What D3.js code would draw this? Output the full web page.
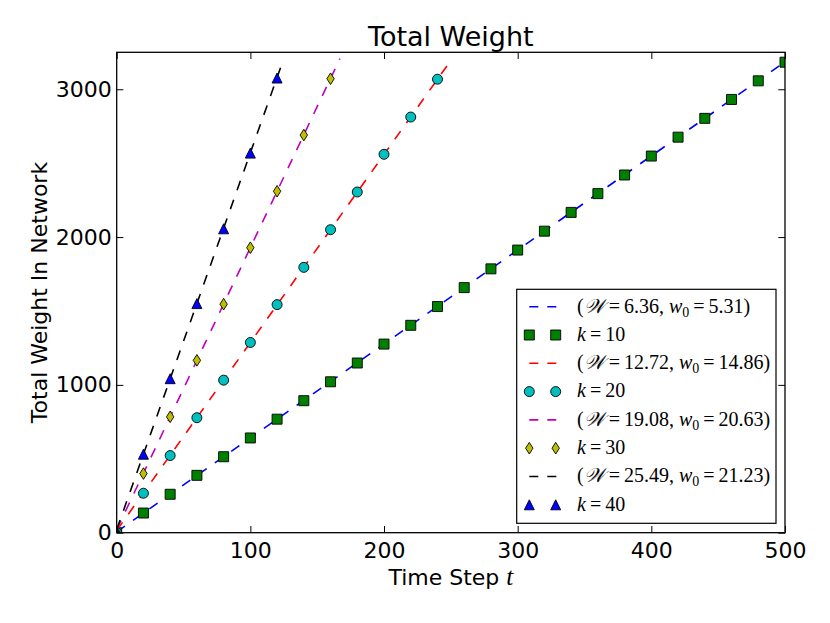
<!DOCTYPE html>
<html>
<head>
<meta charset="utf-8">
<script src="https://cdn.jsdelivr.net/npm/d3@7"></script>
<style>
  html, body { margin: 0; padding: 0; background: #fff; }
  svg { display: block; }
  .tick text { font-family: "DejaVu Sans", sans-serif; font-size: 22px; fill: #000; }
</style>
</head>
<body>
<svg id="chart" width="830" height="623"></svg>
<script>
// ─── Data ────────────────────────────────────────────────────────────────────
const t10 = d3.range(0, 501, 20);
const k10 = [0, 133, 260, 388, 514, 641, 768, 893, 1021, 1148, 1276, 1403, 1530,
             1658, 1785, 1912, 2040, 2167, 2294, 2420, 2548, 2676, 2803, 2931, 3057, 3183];
const t20 = d3.range(0, 241, 20);
const k20 = [0, 267, 522, 778, 1032, 1287, 1543, 1795, 2050, 2305, 2560, 2812, 3068];
const t30 = d3.range(0, 161, 20);
const k30 = [0, 400, 784, 1166, 1546, 1928, 2310, 2690, 3071];
const t40 = d3.range(0, 121, 20);
const k40 = [0, 531, 1042, 1550, 2056, 2568, 3076];

// fitted lines, start/end points
const fitT = [[0, 500], [0, 250], [0, 167], [0, 124]];
const fitY = [[5.31, 3185], [14.86, 3195], [20.63, 3207], [21.23, 3182]];

const slopes     = ['6.36', '12.72', '19.08', '25.49'];
const intercepts = ['5.31', '14.86', '20.63', '21.23'];
const kLabels    = ['10', '20', '30', '40'];

const xTicks = [0, 100, 200, 300, 400, 500];
const yTicks = [0, 1000, 2000, 3000];

// ─── Layout ──────────────────────────────────────────────────────────────────
const W = 830, H = 623;
const M = { top: 52.3, right: 45, bottom: 90.3, left: 116.7 };
const IW = W - M.left - M.right;
const IH = H - M.top - M.bottom;

const x = d3.scaleLinear().domain([0, 500]).range([0, IW]);
const y = d3.scaleLinear().domain([0, 3250]).range([IH, 0]);

const lineCol = ['#0000ff', '#ff0000', '#bf00bf', '#000000'];
const markCol = ['#008000', '#00bfbf', '#bfbf00', '#0000ff'];
const shapes  = ['square', 'circle', 'thin_diamond', 'triangle'];

function markerPath(shape) {
  switch (shape) {
    case 'square':       return 'M-5,-5H5V5H-5Z';
    case 'circle':       return 'M5,0A5,5 0 1,1 -5,0A5,5 0 1,1 5,0Z';
    case 'thin_diamond': return 'M0,-5.8L3.7,0L0,5.8L-3.7,0Z';
    case 'triangle':     return 'M0,-5L5,5H-5Z';
  }
}

const series = [
  { t: t10, v: k10 },
  { t: t20, v: k20 },
  { t: t30, v: k30 },
  { t: t40, v: k40 }
];

const svg = d3.select('#chart');
const g = svg.append('g').attr('transform', `translate(${M.left},${M.top})`);

svg.append('defs').append('clipPath').attr('id', 'plot-clip')
  .append('rect').attr('width', IW).attr('height', IH);

const plot = g.append('g').attr('clip-path', 'url(#plot-clip)');

// ── Lines + markers, in plotting order ───────────────────────────────────────
const line = d3.line().x(d => x(d[0])).y(d => y(d[1]));

series.forEach((s, i) => {
  plot.append('path')
    .datum(d3.zip(fitT[i], fitY[i]))
    .attr('d', line)
    .attr('fill', 'none')
    .attr('stroke', lineCol[i])
    .attr('stroke-width', 1.6)
    .attr('stroke-dasharray', '10,10');

  plot.selectAll(`.mk${i}`)
    .data(d3.zip(s.t, s.v))
    .enter().append('path')
    .attr('class', `mk${i}`)
    .attr('transform', d => `translate(${x(d[0])},${y(d[1])})`)
    .attr('d', markerPath(shapes[i]))
    .attr('fill', markCol[i])
    .attr('stroke', '#000')
    .attr('stroke-width', 0.9);
});

// ── Axes (classic style: ticks inward on all four sides) ────────────────────
const tickLen = 6.7;
g.append('g').attr('transform', `translate(0,${IH})`)
  .call(d3.axisBottom(x).tickValues(xTicks).tickSizeInner(-tickLen).tickSizeOuter(0).tickPadding(10).tickFormat(d3.format('d')));
g.append('g')
  .call(d3.axisTop(x).tickValues(xTicks).tickSizeInner(-tickLen).tickSizeOuter(0).tickFormat(''));
g.append('g')
  .call(d3.axisLeft(y).tickValues(yTicks).tickSizeInner(-tickLen).tickSizeOuter(0).tickPadding(5).tickFormat(d3.format('d')));
g.append('g').attr('transform', `translate(${IW},0)`)
  .call(d3.axisRight(y).tickValues(yTicks).tickSizeInner(-tickLen).tickSizeOuter(0).tickFormat(''));

g.selectAll('.domain').remove();
g.selectAll('.tick line').attr('stroke', '#000').attr('stroke-width', 1);

g.append('rect')
  .attr('width', IW).attr('height', IH)
  .attr('fill', 'none').attr('stroke', '#000').attr('stroke-width', 1.3);

// ── Titles ──────────────────────────────────────────────────────────────────
svg.append('text')
  .attr('x', M.left + IW / 2).attr('y', 45.5)
  .attr('text-anchor', 'middle')
  .style('font-family', '"DejaVu Sans", sans-serif').style('font-size', '27px')
  .text('Total Weight');

const xl = svg.append('text')
  .attr('x', M.left + IW / 2).attr('y', 585)
  .attr('text-anchor', 'middle')
  .style('font-family', '"DejaVu Sans", sans-serif').style('font-size', '22px');
xl.append('tspan').text('Time Step ');
xl.append('tspan').style('font-family', '"Liberation Serif", serif').style('font-style', 'italic')
  .style('font-size', '25px').text('t');

svg.append('text')
  .attr('transform', `translate(46.7,${M.top + IH / 2}) rotate(-90)`)
  .attr('text-anchor', 'middle')
  .style('font-family', '"DejaVu Sans", sans-serif').style('font-size', '22px')
  .text('Total Weight In Network');

// ── Legend ──────────────────────────────────────────────────────────────────
const lg = svg.append('g');
lg.append('rect')
  .attr('x', 516.7).attr('y', 289.3).attr('width', 259.3).attr('height', 234)
  .attr('fill', '#fff').attr('stroke', '#000').attr('stroke-width', 1.2);

const rowY = i => 306.7 + i * 28.3;
const serif = '"Liberation Serif", "DejaVu Serif", serif';

series.forEach((s, i) => {
  const ly = rowY(2 * i), my = rowY(2 * i + 1);

  lg.append('line')
    .attr('x1', 529.3).attr('x2', 556.3).attr('y1', ly).attr('y2', ly)
    .attr('stroke', lineCol[i]).attr('stroke-width', 1.6).attr('stroke-dasharray', '9,9');

  const lt = lg.append('text').attr('x', 577).attr('y', ly + 5.8)
    .style('font-family', serif).style('font-size', '20px');
  lt.append('tspan').text('(');
  lt.append('tspan').style('font-style', 'italic').text('\u{1D4B2}');
  lt.append('tspan').text(`\u2009=\u2009${slopes[i]}, `);
  lt.append('tspan').style('font-style', 'italic').text('w');
  lt.append('tspan').attr('dy', 4).style('font-size', '14px').text('0');
  lt.append('tspan').attr('dy', -4).text(`\u2009=\u2009${intercepts[i]})`);

  [529.3, 555.7].forEach(mx => {
    lg.append('path')
      .attr('transform', `translate(${mx},${my})`)
      .attr('d', markerPath(shapes[i]))
      .attr('fill', markCol[i]).attr('stroke', '#000').attr('stroke-width', 0.9);
  });

  const kt = lg.append('text').attr('x', 577).attr('y', my + 5.8)
    .style('font-family', serif).style('font-size', '20px');
  kt.append('tspan').style('font-style', 'italic').text('k');
  kt.append('tspan').text(`\u2009=\u2009${kLabels[i]}`);
});
</script>
</body>
</html>
